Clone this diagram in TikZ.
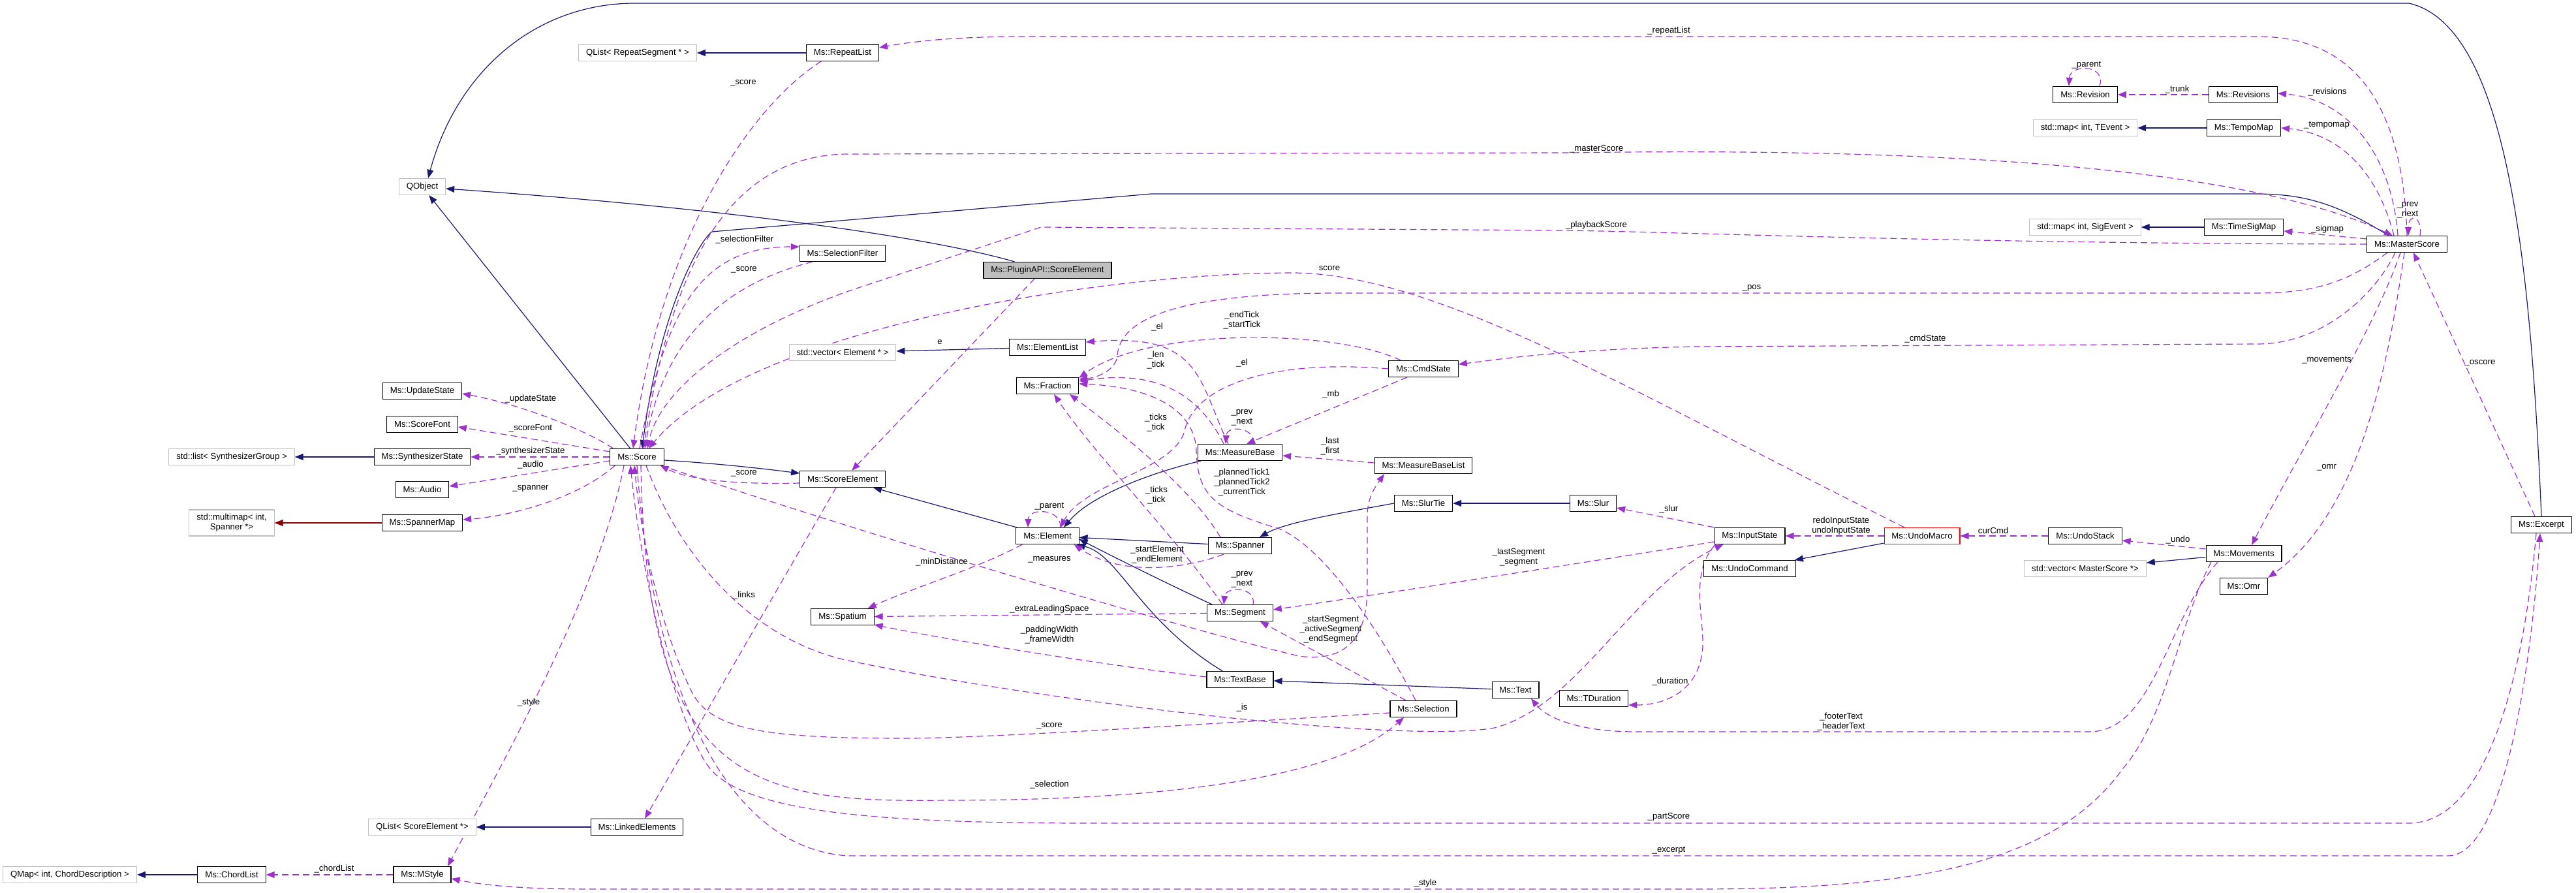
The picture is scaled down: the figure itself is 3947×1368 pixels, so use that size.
\documentclass[tikz,border=0pt]{standalone}
\usepackage{fontspec}
\setmainfont{Liberation Sans}
\usetikzlibrary{arrows.meta}
\definecolor{navyb}{HTML}{191970}
\definecolor{purp}{HTML}{9A32CD}
\definecolor{dred}{HTML}{8B0000}
\definecolor{extgray}{HTML}{BFBFBF}
\definecolor{focusfill}{HTML}{BFBFBF}
\definecolor{redb}{HTML}{FF0000}
\newcommand\dxf{\fontsize{6.6}{7.5}\selectfont}
\pgfdeclarelayer{background}
\pgfsetlayers{background,main}
\begin{document}
\begin{tikzpicture}[x=0.5pt,y=-0.5pt,
  cls/.style={draw=black, line width=0.55pt, fill=white, font=\dxf, minimum height=12.5pt, inner xsep=5.7pt, inner ysep=0pt},
  ext/.style={cls, draw=extgray},
  lbl/.style={font=\dxf, inner sep=0pt, align=center},
  inh/.style={draw=navyb, line width=0.6pt, -{Triangle[length=6.5pt,width=5pt]}},
  priv/.style={draw=dred, line width=0.6pt, -{Triangle[length=6.5pt,width=5pt]}},
  use/.style={draw=purp, line width=0.6pt, dash pattern=on 5pt off 3pt, -{Triangle[length=6.5pt,width=5pt]}}]
\useasboundingbox (0,0) rectangle (3947,1368);

% ---- nodes
\node[ext] (qobject) at (647,286) {QObject};
\node[ext] (qlistrs) at (977,81) {QList< RepeatSegment * >};
\node[cls] (repeatlist) at (1291,81) {Ms::RepeatList};
\node[cls] (selfilter) at (1291,388) {Ms::SelectionFilter};
\node[ext] (vecel) at (1291,540) {std::vector< Element * >};
\node[cls] (updatestate) at (647,599) {Ms::UpdateState};
\node[cls] (scorefont) at (647,650) {Ms::ScoreFont};
\node[cls] (synthstate) at (647,700) {Ms::SynthesizerState};
\node[ext] (listsg) at (355,700) {std::list< SynthesizerGroup >};
\node[cls] (score) at (976,700) {Ms::Score};
\node[cls] (audio) at (647,750) {Ms::Audio};
\node[cls] (spannermap) at (647,801) {Ms::SpannerMap};
\node[ext, align=center, minimum height=20pt] (multimap) at (355,801) {std::multimap< int,\\ Spanner *>};
\node[cls] (scoreelement) at (1291,734) {Ms::ScoreElement};
\node[cls] (spatium) at (1291,945) {Ms::Spatium};
\node[ext] (qlistse) at (647,1267) {QList< ScoreElement *>};
\node[cls] (linked) at (976,1267) {Ms::LinkedElements};
\node[ext] (qmap) at (107,1340) {QMap< int, ChordDescription >};
\node[cls] (chordlist) at (355,1340) {Ms::ChordList};
\node[cls] (mstyle) at (647,1340) {Ms::MStyle};
\node[cls, fill=focusfill] (plugin) at (1605,414) {Ms::PluginAPI::ScoreElement};
\node[cls] (elementlist) at (1605,532) {Ms::ElementList};
\node[cls] (fraction) at (1605,591) {Ms::Fraction};
\node[cls] (cmdstate) at (2181,565) {Ms::CmdState};
\node[cls] (measurebase) at (1900,693) {Ms::MeasureBase};
\node[cls] (mblist) at (2181,713) {Ms::MeasureBaseList};
\node[cls] (slurtie) at (2181,771) {Ms::SlurTie};
\node[cls] (slur) at (2441,771) {Ms::Slur};
\node[cls] (element) at (1605,821) {Ms::Element};
\node[cls] (spanner) at (1900,836) {Ms::Spanner};
\node[cls] (segment) at (1900,939) {Ms::Segment};
\node[cls] (textbase) at (1900,1041) {Ms::TextBase};
\node[cls] (text) at (2322,1057) {Ms::Text};
\node[cls] (selection) at (2181,1086) {Ms::Selection};
\node[cls] (tduration) at (2442,1070) {Ms::TDuration};
\node[cls] (inputstate) at (2681,821) {Ms::InputState};
\node[cls] (undocommand) at (2681,871) {Ms::UndoCommand};
\node[cls, draw=redb] (undomacro) at (2945,821) {Ms::UndoMacro};
\node[cls] (undostack) at (3195,821) {Ms::UndoStack};
\node[cls] (movements) at (3438,848) {Ms::Movements};
\node[ext] (vecms) at (3195,871) {std::vector< MasterScore *>};
\node[cls] (omr) at (3438,898) {Ms::Omr};
\node[cls] (except) at (3894,804) {Ms::Excerpt};
\node[cls] (revision) at (3195,145) {Ms::Revision};
\node[cls] (revisions) at (3437,145) {Ms::Revisions};
\node[ext] (mapte) at (3195,196) {std::map< int, TEvent >};
\node[cls] (tempomap) at (3438,196) {Ms::TempoMap};
\node[ext] (mapse) at (3195,348) {std::map< int, SigEvent >};
\node[cls] (timesigmap) at (3438,348) {Ms::TimeSigMap};
\node[cls] (masterscore) at (3688,374) {Ms::MasterScore};

% ---- labels
\node[lbl] (l1) at (1139,127) {\_score};
\node[lbl] (l2) at (2557,47) {\_repeatList};
\node[lbl] (l3) at (1141,367) {\_selectionFilter};
\node[lbl] (l4) at (1140,413) {\_score};
\node[lbl] (l5) at (2446,228) {\_masterScore};
\node[lbl] (l6) at (2446,345) {\_playbackScore};
\node[lbl] (l7) at (2037,411) {score};
\node[lbl] (l8) at (2684,441) {\_pos};
\node[lbl] (l9) at (2950,519) {\_cmdState};
\node[lbl] (l10) at (3565,552) {\_movements};
\node[lbl] (l11) at (3565,716) {\_omr};
\node[lbl] (l12) at (3800,556) {\_oscore};
\node[lbl] (l13) at (3566,141) {\_revisions};
\node[lbl] (l14) at (3565,192) {\_tempomap};
\node[lbl] (l15) at (3566,351) {\_sigmap};
\node[lbl] (l16) at (3689,322) {\_prev\\\_next};
\node[lbl] (l17) at (3336,137) {\_trunk};
\node[lbl] (l18) at (3197,100) {\_parent};
\node[lbl] (l19) at (3337,827) {\_undo};
\node[lbl] (l20) at (3054,813) {curCmd};
\node[lbl] (l21) at (2821,806) {redoInputState\\undoInputState};
\node[lbl] (l22) at (2557,780) {\_slur};
\node[lbl] (l23) at (2327,854) {\_lastSegment\\\_segment};
\node[lbl] (l24) at (2559,1044) {\_duration};
\node[lbl] (l25) at (1903,1084) {\_is};
\node[lbl] (l26) at (1608,1112) {\_score};
\node[lbl] (l27) at (1608,1202) {\_selection};
\node[lbl] (l28) at (2557,1251) {\_partScore};
\node[lbl] (l29) at (2557,1303) {\_excerpt};
\node[lbl] (l30) at (2184,1353) {\_style};
\node[lbl] (l31) at (2821,1106) {\_footerText\\\_headerText};
\node[lbl] (l32) at (810,1076) {\_style};
\node[lbl] (l33) at (512,1331) {\_chordList};
\node[lbl] (l34) at (813,611) {\_updateState};
\node[lbl] (l35) at (813,656) {\_scoreFont};
\node[lbl] (l36) at (813,691) {\_synthesizerState};
\node[lbl] (l37) at (813,712) {\_audio};
\node[lbl] (l38) at (813,748) {\_spanner};
\node[lbl] (l39) at (1140,725) {\_score};
\node[lbl] (l40) at (1440,524) {e};
\node[lbl] (l41) at (1140,912) {\_links};
\node[lbl] (l42) at (1608,776) {\_parent};
\node[lbl] (l43) at (1443,861) {\_minDistance};
\node[lbl] (l44) at (1608,933) {\_extraLeadingSpace};
\node[lbl] (l45) at (1608,973) {\_paddingWidth\\\_frameWidth};
\node[lbl] (l46) at (1773,850) {\_startElement\\\_endElement};
\node[lbl] (l47) at (1903,888) {\_prev\\\_next};
\node[lbl] (l48) at (2039,964) {\_startSegment\\\_activeSegment\\\_endSegment};
\node[lbl] (l49) at (1903,739) {\_plannedTick1\\\_plannedTick2\\\_currentTick};
\node[lbl] (l50) at (1771,648) {\_ticks\\\_tick};
\node[lbl] (l51) at (1772,759) {\_ticks\\\_tick};
\node[lbl] (l52) at (1771,552) {\_len\\\_tick};
\node[lbl] (l53) at (1773,501) {\_el};
\node[lbl] (l54) at (1903,491) {\_endTick\\\_startTick};
\node[lbl] (l55) at (2039,604) {\_mb};
\node[lbl] (l56) at (1903,556) {\_el};
\node[lbl] (l57) at (2038,684) {\_last\\\_first};
\node[lbl] (l58) at (1903,640) {\_prev\\\_next};
\node[lbl] (l59) at (1608,857) {\_measures};

\begin{pgfonlayer}{background}
% ---- inheritance
\draw[inh] (except.north) .. controls (3878,420) and (3845,40) .. (3691,5) -- (973,5) .. controls (820,5) and (700,110) .. ([shift={(9,0)}]qobject.north);
\draw[inh] (score) -- (qobject);
\draw[inh] ([shift={(48,0)}]plugin.north west) .. controls (1420,362) and (1100,318) .. ([shift={(0,3)}]qobject.east);
\draw[inh] ([shift={(-28,0)}]masterscore.north) .. controls (3570,305) and (3520,297) .. (3450,297) -- (1764,297) -- (1091,355) .. controls (1070,370) and (1010,480) .. ([shift={(8,0)}]score.north);
\draw[inh] (repeatlist) -- (qlistrs);
\draw[inh] (synthstate) -- (listsg);
\draw[priv] (spannermap) -- (multimap);
\draw[inh] ([shift={(0,5)}]score.east) .. controls (1100,710) and (1170,718) .. ([shift={(0,-9)}]scoreelement.west);
\draw[inh] (element) -- (scoreelement);
\draw[inh] (elementlist) -- (vecel);
\draw[inh] ([shift={(5,0)}]measurebase.south west) .. controls (1760,725) and (1670,760) .. ([shift={(25,0)}]element.north);
\draw[inh] (spanner) -- (element);
\draw[inh] ([shift={(8,0)}]segment.north west) .. controls (1790,895) and (1700,850) .. ([shift={(0,5)}]element.east);
\draw[inh] ([shift={(-27,0)}]textbase.north) .. controls (1745,950) and (1715,850) .. ([shift={(-4,0)}]element.south east);
\draw[inh] (slurtie.west) .. controls (2060,785) and (1970,800) .. ([shift={(30,0)}]spanner.north);
\draw[inh] (slur) -- (slurtie);
\draw[inh] (text) -- (textbase);
\draw[inh] (undomacro) -- (undocommand);
\draw[inh] (tempomap) -- (mapte);
\draw[inh] (timesigmap) -- (mapse);
\draw[inh] (movements) -- (vecms);
\draw[inh] (linked) -- (qlistse);
\draw[inh] (chordlist) -- (qmap);

% ---- usage
\draw[use] ([shift={(-33,0)}]repeatlist.south) .. controls (1140,170) and (1010,380) .. ([shift={(-6,0)}]score.north);
\draw[use] (masterscore.north) .. controls (3682,150) and (3600,56) .. (3459,56) -- (1568,56) .. controls (1470,56) and (1400,63) .. ([shift={(0,-8)}]repeatlist.east);
\draw[use] ([shift={(4,0)}]score.north) .. controls (1020,470) and (1075,378) .. ([shift={(0,-10)}]selfilter.west);
\draw[use] ([shift={(-46,0)}]selfilter.south) .. controls (1130,430) and (1020,500) .. ([shift={(12,0)}]score.north);
\draw[use] ([shift={(10,0)}]score.north) .. controls (1025,420) and (1110,237) .. (1300,236) -- (2407,234) .. controls (3000,225) and (3450,260) .. ([shift={(-22,0)}]masterscore.north);
\draw[use] (masterscore.west) .. controls (3000,373) and (2600,356) .. (2398,353) -- (1595,348) -- (1300,446) .. controls (1120,510) and (1010,600) .. ([shift={(16,0)}]score.north);
\draw[use] ([shift={(-27,0)}]undomacro.north) .. controls (2500,600) and (2200,418) .. (1979,418) .. controls (1700,418) and (1150,500) .. ([shift={(18,0)}]score.north);
\draw[use] ([shift={(-30,0)}]masterscore.south) .. controls (3600,430) and (3550,449) .. (3459,449) -- (2041,449) .. controls (1800,450) and (1715,490) .. (1712,545) .. controls (1710,565) and (1685,578) .. ([shift={(0,-10)}]fraction.east);
\draw[use] ([shift={(-18,0)}]masterscore.south) .. controls (3640,450) and (3560,527) .. (3459,527) -- (2600,531) .. controls (2400,535) and (2300,550) .. ([shift={(0,-7)}]cmdstate.east);
\draw[use] ([shift={(-10,0)}]masterscore.south) .. controls (3640,500) and (3520,700) .. ([shift={(12,0)}]movements.north);
\draw[use] ([shift={(-4,0)}]masterscore.south) .. controls (3660,550) and (3620,780) .. (omr.north east);
\draw[use] ([shift={(-10,0)}]except.north) -- ([shift={(10,0)}]masterscore.south);
\draw[use] ([shift={(-14,0)}]masterscore.north) .. controls (3665,240) and (3600,152) .. ([shift={(0,-2)}]revisions.east);
\draw[use] ([shift={(-20,0)}]masterscore.north) .. controls (3645,270) and (3590,205) .. (tempomap.east);
\draw[use] ([shift={(0,-8)}]masterscore.west) -- ([shift={(0,6)}]timesigmap.east);
\draw[use] ([shift={(20,0)}]masterscore.north) .. controls (3712,330) and (3690,326) .. ([shift={(2,0)}]masterscore.north);
\draw[use] (revisions) -- (revision);
\draw[use] ([shift={(22,0)}]revision.north) .. controls (3228,98) and (3172,98) .. ([shift={(-25,0)}]revision.north);
\draw[use] ([shift={(0,-7)}]movements.west) -- ([shift={(0,7)}]undostack.east);
\draw[use] (undostack) -- (undomacro);
\draw[use] (undomacro) -- (inputstate);
\draw[use] (inputstate.north west) -- ([shift={(0,7)}]slur.east);
\draw[use] ([shift={(0,9)}]inputstate.west) .. controls (2400,866) and (2150,905) .. ([shift={(0,-5)}]segment.east);
\draw[use] ([shift={(2,0)}]inputstate.south west) .. controls (2585,880) and (2615,960) .. (2608,1000) .. controls (2600,1060) and (2550,1080) .. ([shift={(0,10)}]tduration.east);
\draw[use] ([shift={(14,0)}]score.south) .. controls (1040,850) and (1150,980) .. (1300,1012) .. controls (1600,1075) and (2150,1140) .. (2290,1115) .. controls (2420,1080) and (2500,900) .. ([shift={(14,0)}]inputstate.south west);
\draw[use] ([shift={(0,6)}]selection.west) .. controls (1800,1112) and (1500,1131) .. (1390,1131) .. controls (1180,1131) and (1090,1120) .. (1060,1060) .. controls (1020,980) and (985,850) .. ([shift={(-4,0)}]score.south);
\draw[use] ([shift={(6,0)}]score.south) .. controls (990,1200) and (1150,1230) .. (1450,1226) .. controls (1800,1226) and (2050,1190) .. ([shift={(-30,0)}]selection.south);
\draw[use] ([shift={(-8,0)}]except.south) .. controls (3870,1000) and (3820,1261) .. (3691,1261) -- (1670,1261) .. controls (1350,1261) and (1150,1245) .. (1090,1180) .. controls (1040,1120) and (985,900) .. ([shift={(-10,0)}]score.south);
\draw[use] ([shift={(0,0)}]score.south) .. controls (1000,1050) and (1110,1300) .. (1300,1311) -- (3751,1311) .. controls (3840,1311) and (3880,1000) .. ([shift={(-2,0)}]except.south);
\draw[use] ([shift={(-50,0)}]movements.south) .. controls (3340,950) and (3320,1100) .. (3253,1177) .. controls (3150,1320) and (2950,1362) .. (2600,1362) -- (900,1362) .. controls (800,1362) and (740,1356) .. ([shift={(0,6)}]mstyle.east);
\draw[use] ([shift={(-40,0)}]movements.south) .. controls (3320,950) and (3300,1121) .. (3201,1121) -- (2506,1121) .. controls (2420,1121) and (2370,1100) .. ([shift={(24,0)}]text.south);
\draw[use] ([shift={(-20,0)}]score.south) .. controls (920,900) and (780,1150) .. ([shift={(39,0)}]mstyle.north);
\draw[use] (mstyle) -- (chordlist);
\draw[use] ([shift={(5,0)}]score.north west) .. controls (900,660) and (800,620) .. ([shift={(0,4)}]updatestate.east);
\draw[use] ([shift={(0,5)}]score.north west) -- ([shift={(0,4)}]scorefont.east);
\draw[use] (score) -- (synthstate);
\draw[use] ([shift={(0,6)}]score.west) -- ([shift={(0,-5)}]audio.east);
\draw[use] ([shift={(8,0)}]score.south west) .. controls (890,760) and (790,790) .. ([shift={(0,-5)}]spannermap.east);
\draw[use] ([shift={(0,6)}]scoreelement.west) .. controls (1150,742) and (1060,738) .. ([shift={(-6,0)}]score.south east);
\draw[use] ([shift={(-20,0)}]plugin.south) -- ([shift={(14,0)}]scoreelement.north);
\draw[use] ([shift={(-10,0)}]scoreelement.south) -- ([shift={(12,0)}]linked.north);
\draw[use] ([shift={(20,0)}]element.north) .. controls (1626,778) and (1576,778) .. ([shift={(-30,0)}]element.north);
\draw[use] ([shift={(10,0)}]element.south west) .. controls (1500,870) and (1400,900) .. ([shift={(-10,0)}]spatium.north east);
\draw[use] (segment) -- (spatium);
\draw[use] ([shift={(0,-4)}]textbase.west) .. controls (1700,1020) and (1450,980) .. ([shift={(0,12)}]spatium.east);
\draw[use] ([shift={(-25,0)}]spanner.south) .. controls (1820,870) and (1720,885) .. ([shift={(-8,0)}]element.south east);
\draw[use] ([shift={(20,0)}]segment.north) .. controls (1925,898) and (1878,898) .. ([shift={(-25,0)}]segment.north);
\draw[use] ([shift={(-27,0)}]selection.north) -- ([shift={(-20,0)}]segment.south east);
\draw[use] ([shift={(-12,0)}]selection.north) .. controls (2110,960) and (2030,840) .. (1960,810) .. controls (1860,780) and (1835,760) .. (1833,690) .. controls (1830,620) and (1750,592) .. ([shift={(0,-3)}]fraction.east);
\draw[use] ([shift={(-30,0)}]spanner.north) .. controls (1820,740) and (1700,650) .. ([shift={(34,0)}]fraction.south);
\draw[use] ([shift={(-27,0)}]segment.north) .. controls (1800,820) and (1680,700) .. ([shift={(10,0)}]fraction.south);
\draw[use] ([shift={(-25,0)}]measurebase.north) .. controls (1840,610) and (1780,565) .. ([shift={(0,-7)}]fraction.east);
\draw[use] ([shift={(-18,0)}]measurebase.north) .. controls (1835,580) and (1840,510) .. ([shift={(0,-8)}]elementlist.east);
\draw[use] ([shift={(-35,0)}]cmdstate.north) .. controls (2050,505) and (1760,500) .. ([shift={(0,-12)}]fraction.east);
\draw[use] ([shift={(-25,0)}]cmdstate.south) -- ([shift={(10,0)}]measurebase.north);
\draw[use] (cmdstate.west) .. controls (1950,550) and (1830,590) .. (1815,660) .. controls (1800,720) and (1660,740) .. ([shift={(20,0)}]element.north);
\draw[use] ([shift={(0,-4)}]mblist.west) -- ([shift={(0,5)}]measurebase.east);
\draw[use] ([shift={(20,0)}]measurebase.north) .. controls (1925,655) and (1880,650) .. ([shift={(-22,0)}]measurebase.north);
\draw[use] ([shift={(-5,0)}]score.south east) .. controls (1300,810) and (1800,960) .. (1990,1005) .. controls (2060,1015) and (2095,980) .. (2095,900) -- (2095,790) .. controls (2095,760) and (2110,742) .. ([shift={(-60,0)}]mblist.south);
\end{pgfonlayer}
\end{tikzpicture}
\end{document}
